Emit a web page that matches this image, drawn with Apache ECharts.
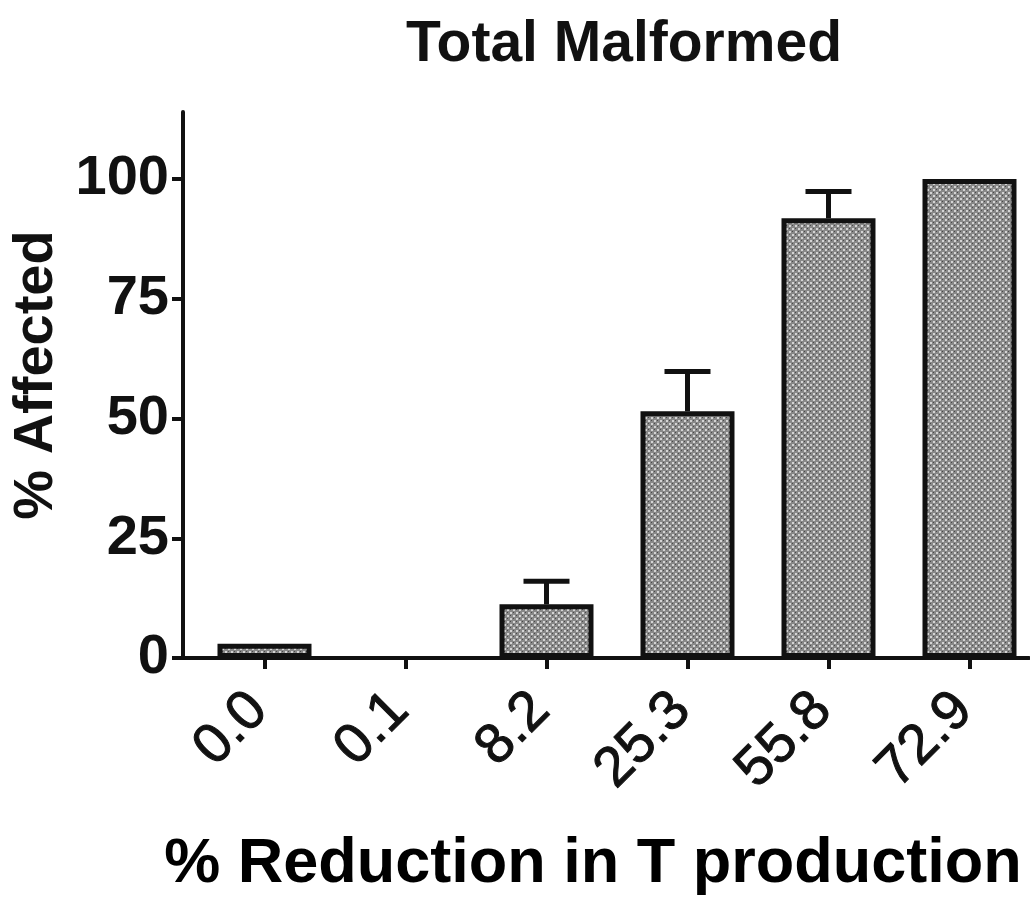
<!DOCTYPE html>
<html>
<head>
<meta charset="utf-8">
<script src="https://cdn.jsdelivr.net/npm/echarts@6/dist/echarts.min.js"></script>
<style>
  html, body { margin: 0; padding: 0; background: #fff; }
  #chart { width: 1030px; height: 901px; }
</style>
</head>
<body>
<div id="chart"></div>
<script>
var categories = ["0.0", "0.1", "8.2", "25.3", "55.8", "72.9"];
var means = [3, 0, 11.2, 51.5, 91.8, 100];
var upperErr = [0, 0, 4.8, 8.3, 5.6, 0];
var yTicks = [0, 25, 50, 75, 100];
var xTicks = [0, 1, 2, 3, 4, 5];

// dotted gray fill like the original print
function makePattern() {
  var c = document.createElement("canvas");
  c.width = 6; c.height = 6;
  var g = c.getContext("2d");
  g.fillStyle = "#888";
  g.fillRect(0, 0, 6, 6);
  g.fillStyle = "#d4d4d4";
  g.fillRect(0, 0, 2, 2);
  g.fillRect(3, 3, 2, 2);
  g.fillStyle = "#4a4a4a";
  g.fillRect(3, 0, 1, 1);
  g.fillRect(0, 3, 1, 1);
  return c;
}

var barData = means.map(function (v, i) { return [i, v === 0 ? null : v]; });
var errData = categories.map(function (c, i) {
  return [i, means[i], means[i] + upperErr[i]];
});

var chart = echarts.init(document.getElementById("chart"));
var font = "'Liberation Sans', Arial, sans-serif";

var option = {
  backgroundColor: "#fff",
  animation: false,
  title: [
    {
      text: "Total Malformed",
      left: 619, top: 12,
      textAlign: "center",
      textStyle: { fontFamily: font, fontWeight: "bold", fontSize: 57, color: "#111" }
    },
    {
      text: "% Reduction in T production",
      left: 588, top: 828,
      textAlign: "center",
      textStyle: { fontFamily: font, fontWeight: "bold", fontSize: 63, color: "#000" }
    }
  ],
  grid: { left: 183, right: 1, top: 112, bottom: 243 },
  xAxis: {
    type: "value",
    min: -0.578, max: 5.422,
    splitLine: { show: false },
    axisLine: { onZero: false, lineStyle: { color: "#111", width: 4 } },
    axisTick: { show: true, customValues: xTicks, length: 11, lineStyle: { color: "#111", width: 4 } },
    axisLabel: {
      customValues: xTicks,
      formatter: function (v) { return categories[Math.round(v)]; },
      rotate: 45, margin: 38,
      padding: [0, 8, 0, 0],
      fontFamily: font, fontWeight: "normal", fontSize: 56, color: "#111",
      textBorderColor: "#111", textBorderWidth: 1
    }
  },
  yAxis: {
    type: "value",
    min: 0, max: 114,
    name: "% Affected",
    nameLocation: "middle",
    nameGap: 112,
    nameTextStyle: { fontFamily: font, fontWeight: "bold", fontSize: 56, color: "#111", padding: [0, 0, 0, 20] },
    splitLine: { show: false },
    axisLine: { show: true, onZero: false, lineStyle: { color: "#111", width: 4 } },
    axisTick: { show: true, length: 11, customValues: yTicks, lineStyle: { color: "#111", width: 4 } },
    axisLabel: {
      customValues: yTicks, margin: 14,
      fontFamily: font, fontWeight: "bold", fontSize: 56, color: "#111"
    }
  },
  series: [
    {
      type: "bar",
      data: barData,
      barWidth: 94,
      itemStyle: {
        color: { image: makePattern(), repeat: "repeat" },
        borderColor: "#111",
        borderWidth: 5
      }
    },
    {
      type: "custom",
      data: errData,
      z: 5,
      renderItem: function (params, api) {
        var i = api.value(0);
        if (api.value(2) <= api.value(1)) return;
        var base = api.coord([i, api.value(1)]);
        var top = api.coord([i, api.value(2)]);
        var half = 23;
        var style = { stroke: "#111", lineWidth: 5 };
        return {
          type: "group",
          children: [
            { type: "line", shape: { x1: base[0], y1: base[1], x2: top[0], y2: top[1] }, style: style },
            { type: "line", shape: { x1: top[0] - half, y1: top[1], x2: top[0] + half, y2: top[1] }, style: style }
          ]
        };
      }
    }
  ]
};

chart.setOption(option);
</script>
</body>
</html>
